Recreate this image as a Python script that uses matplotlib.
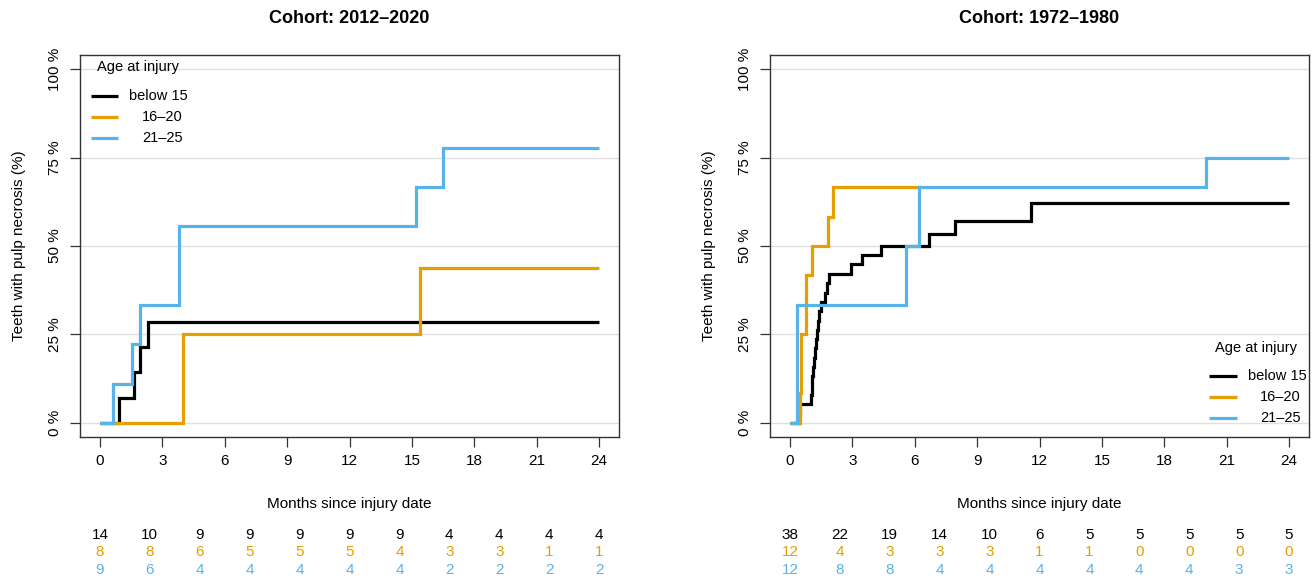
import matplotlib
matplotlib.use("Agg")
import matplotlib.pyplot as plt
import matplotlib.transforms as mtransforms

plt.rcParams['font.family'] = ['Liberation Sans', 'DejaVu Sans']

# ---------------- data ----------------
groups = ["below 15", "16\u201320", "21\u201325"]
colors = ["#000000", "#E69F00", "#56B4E9"]
legend_title = "Age at injury"
xticks = [0, 3, 6, 9, 12, 15, 18, 21, 24]
yticks = [0, 25, 50, 75, 100]
ytick_labels = ["0 %", "25 %", "50 %", "75 %", "100 %"]
risk_times = [0, 2.4, 4.8, 7.2, 9.6, 12, 14.4, 16.8, 19.2, 21.6, 24]

# Cohort 2012-2020
a_title = "Cohort: 2012\u20132020"
a_black_t = [0, 0.90, 1.65, 1.94, 2.32, 24]
a_black_v = [0, 7.14, 14.29, 21.43, 28.57, 28.57]
a_orange_t = [0, 3.97, 15.4, 24]
a_orange_v = [0, 25.0, 43.75, 43.75]
a_blue_t = [0, 0.62, 1.52, 1.94, 3.80, 15.2, 16.5, 24]
a_blue_v = [0, 11.1, 22.2, 33.3, 55.6, 66.7, 77.8, 77.8]
a_risk_black = [14, 10, 9, 9, 9, 9, 9, 4, 4, 4, 4]
a_risk_orange = [8, 8, 6, 5, 5, 5, 4, 3, 3, 1, 1]
a_risk_blue = [9, 6, 4, 4, 4, 4, 4, 2, 2, 2, 2]

# Cohort 1972-1980
b_title = "Cohort: 1972\u20131980"
b_black_t = [0, 0.42, 0.48, 1.00, 1.04, 1.08, 1.12, 1.15, 1.19, 1.23, 1.28,
             1.33, 1.38, 1.50, 1.70, 1.78, 1.88, 2.92, 3.48, 4.39, 6.70,
             7.95, 11.6, 24]
b_black_v = [0, 2.6, 5.3, 7.9, 10.5, 13.2, 15.8, 18.4, 21.1, 23.7, 26.3,
             28.9, 31.6, 34.2, 36.8, 39.5, 42.1, 44.8, 47.4, 50.0, 53.4,
             57.0, 62.2, 62.2]
b_orange_t = [0, 0.50, 0.55, 0.77, 1.04, 1.85, 2.08, 6.3]
b_orange_v = [0, 8.3, 25.0, 41.7, 50.0, 58.3, 66.7, 66.7]
b_blue_t = [0, 0.32, 5.59, 6.20, 20.0, 24]
b_blue_v = [0, 33.3, 50.0, 66.7, 75.0, 75.0]
b_risk_black = [38, 22, 19, 14, 10, 6, 5, 5, 5, 5, 5]
b_risk_orange = [12, 4, 3, 3, 3, 1, 1, 0, 0, 0, 0]
b_risk_blue = [12, 8, 8, 4, 4, 4, 4, 4, 4, 3, 3]

FS = 11
LFS = 10.5
fig = plt.figure(figsize=(13.14, 5.83), dpi=100)
W, H = 1314, 583
AX_TOP, AX_BOT = 55, 437
AX_W = 539


def make_axes(x0):
    return fig.add_axes([x0 / W, 1 - AX_BOT / H, AX_W / W, (AX_BOT - AX_TOP) / H])


def draw_legend(ax, x0, title_px, line_px, label_px, rows_py):
    fx = lambda px: (px - x0) / AX_W
    fy = lambda py: 1 - (py - AX_TOP) / (AX_BOT - AX_TOP)
    ax.text(fx(title_px[0]), fy(title_px[1]), legend_title, transform=ax.transAxes,
            ha="left", va="center", fontsize=LFS)
    for i, (g, c, py) in enumerate(zip(groups, colors, rows_py)):
        ax.plot([fx(line_px[0]), fx(line_px[1])], [fy(py), fy(py)], color=c,
                lw=2.3, transform=ax.transAxes, solid_capstyle="butt", zorder=4)
        lx = label_px[0] if i == 0 else label_px[1]
        ax.text(fx(lx), fy(py), g, transform=ax.transAxes, ha="left",
                va="center", fontsize=LFS)


def panel(ax, title, curves, risks):
    ax.set_xlim(-0.96, 24.96)
    ax.set_ylim(-4, 104)
    for y in yticks:
        ax.axhline(y, color="#e0e0e0", lw=1.0, zorder=0)
    for (t, v), c in zip(curves, colors):
        ax.step(t, v, where="post", color=c, lw=2.3, solid_capstyle="butt",
                solid_joinstyle="miter", zorder=3)
    for s in ax.spines.values():
        s.set_color("#333333")
        s.set_linewidth(1.0)
    ax.set_xticks(xticks)
    ax.set_yticks(yticks)
    ax.set_yticklabels(ytick_labels, rotation=90, va="center")
    ax.tick_params(axis="both", direction="out", length=7, width=0.9,
                   labelsize=FS, color="#333333", pad=6)
    ax.tick_params(axis="x", pad=5)
    ax.set_title(title, fontsize=13, fontweight="bold", pad=23)
    ax.set_ylabel("Teeth with pulp necrosis (%)", fontsize=FS, labelpad=16)
    ax.set_xlabel("Months since injury date", fontsize=FS, labelpad=21)
    tr = mtransforms.blended_transform_factory(ax.transData, ax.transAxes)
    rows_y = [-0.257, -0.302, -0.347]
    for vals, c, yy in zip(risks, colors, rows_y):
        for xx, n in zip(risk_times, vals):
            ax.text(xx, yy, str(n), transform=tr, ha="center", va="center",
                    color=c, fontsize=FS, clip_on=False)


ax1 = make_axes(80)
ax2 = make_axes(770)
panel(ax1, a_title,
      [(a_black_t, a_black_v), (a_orange_t, a_orange_v), (a_blue_t, a_blue_v)],
      [a_risk_black, a_risk_orange, a_risk_blue])
panel(ax2, b_title,
      [(b_black_t, b_black_v), (b_orange_t, b_orange_v), (b_blue_t, b_blue_v)],
      [b_risk_black, b_risk_orange, b_risk_blue])

draw_legend(ax1, 80, (97, 67), (91, 118), (129, 142), [96, 117, 138])
draw_legend(ax2, 770, (1215, 348), (1209, 1237), (1248, 1260), [376, 397, 418])

fig.savefig("out.png", dpi=100)
